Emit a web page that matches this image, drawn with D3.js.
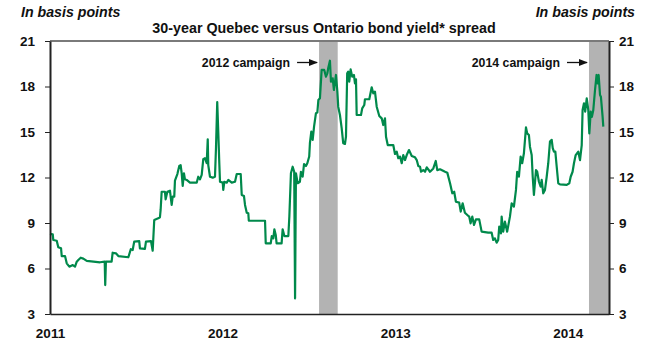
<!DOCTYPE html>
<html>
<head>
<meta charset="utf-8">
<script src="https://cdn.jsdelivr.net/npm/d3@7"></script>
<style>
  html, body { margin: 0; padding: 0; background: #fff; }
  svg { display: block; font-family: "Liberation Sans", Arial, sans-serif; }
</style>
</head>
<body>
<svg id="chart" width="649" height="341"></svg>
<script>
// Time expressed as decimal years (e.g. 2012.5 = early July 2012)
const years = [
  2011.000, 2011.016, 2011.019, 2011.039, 2011.048, 2011.064, 2011.068, 2011.087, 2011.097, 2011.112,
  2011.132, 2011.145, 2011.155, 2011.164, 2011.178, 2011.193, 2011.213, 2011.290, 2011.317, 2011.320,
  2011.324, 2011.357, 2011.363, 2011.382, 2011.396, 2011.454, 2011.468, 2011.479, 2011.488, 2011.517,
  2011.521, 2011.550, 2011.556, 2011.585, 2011.595, 2011.604, 2011.627, 2011.637, 2011.641, 2011.647,
  2011.666, 2011.670, 2011.680, 2011.695, 2011.705, 2011.711, 2011.720, 2011.724, 2011.738, 2011.749,
  2011.757, 2011.763, 2011.769, 2011.776, 2011.782, 2011.792, 2011.811, 2011.850, 2011.859, 2011.869,
  2011.879, 2011.888, 2011.898, 2011.908, 2011.914, 2011.917, 2011.927, 2011.943, 2011.956, 2011.962,
  2011.969, 2011.975, 2011.981, 2011.985, 2012.001, 2012.004, 2012.010, 2012.024, 2012.033, 2012.053,
  2012.072, 2012.082, 2012.105, 2012.111, 2012.124, 2012.130, 2012.140, 2012.149, 2012.152, 2012.246,
  2012.250, 2012.279, 2012.285, 2012.294, 2012.300, 2012.308, 2012.313, 2012.342, 2012.348, 2012.358,
  2012.381, 2012.387, 2012.396, 2012.406, 2012.415, 2012.420, 2012.425, 2012.435, 2012.448, 2012.454,
  2012.464, 2012.472, 2012.483, 2012.491, 2012.502, 2012.506, 2012.514, 2012.522, 2012.530, 2012.541,
  2012.549, 2012.555, 2012.564, 2012.574, 2012.589, 2012.599, 2012.607, 2012.612, 2012.622, 2012.628,
  2012.638, 2012.645, 2012.657, 2012.665, 2012.670, 2012.680, 2012.690, 2012.699, 2012.709, 2012.715,
  2012.722, 2012.728, 2012.734, 2012.742, 2012.751, 2012.761, 2012.767, 2012.773, 2012.777, 2012.802,
  2012.809, 2012.821, 2012.825, 2012.850, 2012.864, 2012.873, 2012.883, 2012.893, 2012.908, 2012.922,
  2012.931, 2012.941, 2012.947, 2012.957, 2012.989, 2012.999, 2013.009, 2013.018, 2013.028, 2013.038,
  2013.047, 2013.057, 2013.067, 2013.080, 2013.096, 2013.115, 2013.125, 2013.134, 2013.144, 2013.150,
  2013.163, 2013.173, 2013.183, 2013.202, 2013.221, 2013.235, 2013.244, 2013.260, 2013.289, 2013.302,
  2013.318, 2013.331, 2013.342, 2013.352, 2013.371, 2013.380, 2013.391, 2013.404, 2013.418, 2013.429,
  2013.437, 2013.447, 2013.457, 2013.468, 2013.487, 2013.501, 2013.539, 2013.559, 2013.568, 2013.578,
  2013.588, 2013.597, 2013.603, 2013.613, 2013.617, 2013.626, 2013.636, 2013.649, 2013.665, 2013.675,
  2013.688, 2013.700, 2013.707, 2013.717, 2013.727, 2013.736, 2013.746, 2013.758, 2013.765, 2013.775,
  2013.781, 2013.791, 2013.797, 2013.804, 2013.816, 2013.823, 2013.833, 2013.843, 2013.849, 2013.858,
  2013.868, 2013.878, 2013.887, 2013.897, 2013.907, 2013.913, 2013.920, 2013.928, 2013.936, 2013.945,
  2013.955, 2013.994, 2014.009, 2014.017, 2014.028, 2014.036, 2014.046, 2014.061, 2014.071, 2014.081,
  2014.086, 2014.094, 2014.101, 2014.110, 2014.119, 2014.125, 2014.133, 2014.140, 2014.148, 2014.158,
  2014.167, 2014.173, 2014.179, 2014.187, 2014.192, 2014.202, 2014.206
];

// 30-year Quebec minus Ontario yield, basis points
const spread = [
  8.28, 8.25, 7.88, 7.83, 7.40, 7.33, 6.82, 6.82, 6.34, 6.12,
  6.23, 6.12, 6.45, 6.56, 6.71, 6.65, 6.50, 6.41, 6.45, 4.91,
  6.45, 6.45, 7.04, 7.00, 6.82, 6.74, 7.27, 7.22, 7.77, 7.81,
  7.33, 7.29, 7.77, 7.81, 7.17, 9.20, 9.31, 9.38, 9.86, 11.06,
  11.06, 10.56, 11.06, 11.13, 10.19, 10.74, 10.74, 11.79, 12.23, 12.76,
  12.82, 12.28, 11.44, 12.28, 11.88, 11.84, 11.66, 11.66, 12.05, 11.88,
  12.17, 13.20, 13.27, 12.94, 14.52, 12.82, 12.05, 11.99, 12.05, 14.03,
  16.97, 15.00, 12.94, 11.72, 11.66, 11.18, 11.72, 11.66, 11.84, 11.66,
  11.72, 12.23, 12.23, 10.85, 10.78, 10.19, 9.68, 9.64, 9.15, 9.15,
  7.66, 7.66, 8.14, 7.99, 8.58, 8.21, 7.66, 7.66, 8.58, 8.14,
  8.14, 9.46, 12.28, 12.71, 12.38, 4.03, 12.28, 11.62, 11.72, 12.38,
  12.05, 12.89, 12.76, 12.94, 13.38, 14.26, 15.03, 14.48, 15.36, 16.24,
  16.28, 17.11, 17.22, 19.09, 19.09, 18.65, 18.87, 19.20, 19.70, 18.32,
  18.54, 17.77, 18.76, 17.66, 16.67, 16.12, 15.25, 14.26, 14.21, 14.69,
  18.87, 18.98, 18.32, 19.13, 18.65, 18.76, 18.21, 18.47, 16.12, 16.12,
  16.56, 16.78, 17.16, 17.16, 17.95, 17.55, 17.66, 16.67, 16.06, 15.90,
  15.46, 15.90, 14.69, 14.14, 14.14, 13.55, 13.70, 13.27, 13.38, 12.94,
  13.48, 13.15, 13.48, 13.81, 13.42, 13.33, 13.15, 12.76, 12.71, 12.38,
  12.49, 12.38, 12.67, 12.38, 12.60, 13.09, 12.49, 12.54, 12.38, 12.32,
  11.62, 10.96, 11.06, 10.40, 10.34, 9.75, 10.30, 9.68, 9.53, 9.42,
  8.98, 9.42, 8.87, 9.24, 9.24, 8.43, 8.36, 8.36, 7.88, 7.99,
  7.70, 7.88, 8.76, 8.32, 9.42, 8.43, 9.09, 8.43, 9.42, 10.30,
  10.08, 11.18, 12.38, 12.05, 13.38, 12.94, 13.60, 15.30, 14.91, 14.80,
  14.03, 13.48, 12.05, 10.85, 12.49, 12.38, 11.72, 11.40, 11.84, 10.96,
  11.18, 12.05, 12.94, 14.37, 14.48, 13.93, 13.70, 13.70, 12.71, 11.62,
  11.55, 11.51, 11.62, 12.05, 12.38, 12.94, 13.48, 13.70, 13.15, 14.14,
  16.45, 16.89, 16.34, 17.22, 16.45, 14.91, 16.34, 16.00, 16.45, 17.77,
  18.76, 18.21, 18.76, 17.44, 17.33, 16.00, 15.35
];

// Provincial election campaigns (decimal years)
const campaignStart = [2012.559, 2014.123];
const campaignEnd   = [2012.667, 2014.239];
const campaignLabel = ["2012 campaign", "2014 campaign"];

const yearTicks = [2011, 2012, 2013, 2014];
const yTicks = [3, 6, 9, 12, 15, 18, 21];

const W = 649, H = 341;
const m = { left: 50, right: 40, top: 41, bottom: 27 };

const svg = d3.select("#chart");

const x = d3.scaleLinear()
  .domain([2011, 2014.239])
  .range([m.left, W - m.right]);
const y = d3.scaleLinear()
  .domain([3, 21])
  .range([H - m.bottom, m.top]);

// campaign shading
svg.append("g").selectAll("rect")
  .data(campaignStart.map((s, i) => ({ s, e: campaignEnd[i] })))
  .join("rect")
  .attr("x", d => x(d.s))
  .attr("width", d => x(d.e) - x(d.s))
  .attr("y", y(21))
  .attr("height", y(3) - y(21))
  .attr("fill", "#b3b3b3");

// top frame line
svg.append("line")
  .attr("x1", x.range()[0]).attr("x2", x.range()[1])
  .attr("y1", y(21)).attr("y2", y(21))
  .attr("stroke", "#7a7a7a").attr("stroke-width", 2);

// spread series
const pts = years.map((t, i) => [t, spread[i]]);
svg.append("path")
  .datum(pts)
  .attr("fill", "none")
  .attr("stroke", "#00894b")
  .attr("stroke-width", 2.2)
  .attr("stroke-linejoin", "round")
  .attr("d", d3.line().x(d => x(d[0])).y(d => y(d[1])));

// axes
const styleAxis = g => {
  g.select(".domain").attr("stroke", "#222").attr("stroke-width", 2);
  g.selectAll(".tick line").attr("stroke", "#222").attr("stroke-width", 1);
  g.selectAll(".tick text")
    .attr("fill", "#111")
    .style("font-size", "13.5px")
    .style("font-weight", "bold")
    .style("font-family", "'Liberation Sans', Arial, sans-serif");
};

svg.append("g")
  .attr("transform", `translate(${m.left},0)`)
  .call(d3.axisLeft(y).tickValues(yTicks).tickSize(5).tickSizeOuter(0).tickPadding(10))
  .call(styleAxis);

svg.append("g")
  .attr("transform", `translate(${W - m.right},0)`)
  .call(d3.axisRight(y).tickValues(yTicks).tickSize(5).tickSizeOuter(0).tickPadding(5))
  .call(styleAxis);

const xAxis = svg.append("g")
  .attr("transform", `translate(0,${y(3)})`)
  .call(d3.axisBottom(x).tickValues(yearTicks).tickFormat(d3.format("d")).tickSize(0).tickSizeOuter(0).tickPadding(14))
  .call(styleAxis);
xAxis.select(".domain").attr("stroke-width", 1.5);

// titles
svg.append("text")
  .attr("x", 324).attr("y", 33)
  .attr("text-anchor", "middle")
  .style("font-size", "14.3px").style("font-weight", "bold")
  .attr("fill", "#111")
  .text("30-year Quebec versus Ontario bond yield* spread");

svg.append("text")
  .attr("x", 21).attr("y", 17)
  .style("font-size", "14.2px").style("font-weight", "bold").style("font-style", "italic")
  .attr("fill", "#111")
  .text("In basis points");

svg.append("text")
  .attr("x", 635).attr("y", 17)
  .attr("text-anchor", "end")
  .style("font-size", "14.2px").style("font-weight", "bold").style("font-style", "italic")
  .attr("fill", "#111")
  .text("In basis points");

// campaign annotations with arrows
svg.append("defs").append("marker")
  .attr("id", "arrowhead")
  .attr("viewBox", "0 0 10 10")
  .attr("refX", 9).attr("refY", 5)
  .attr("markerWidth", 7).attr("markerHeight", 7)
  .attr("orient", "auto")
  .append("path")
  .attr("d", "M0,1 L10,5 L0,9 Z")
  .attr("fill", "#111");

campaignStart.forEach((s, i) => {
  const ax = x(s) - 2;
  svg.append("line")
    .attr("x1", ax - 20).attr("x2", ax)
    .attr("y1", 62.5).attr("y2", 62.5)
    .attr("stroke", "#111").attr("stroke-width", 1.3)
    .attr("marker-end", "url(#arrowhead)");
  svg.append("text")
    .attr("x", ax - 27).attr("y", 66.5)
    .attr("text-anchor", "end")
    .style("font-size", "12.3px").style("font-weight", "bold")
    .attr("fill", "#111")
    .text(campaignLabel[i]);
});
</script>
</body>
</html>
